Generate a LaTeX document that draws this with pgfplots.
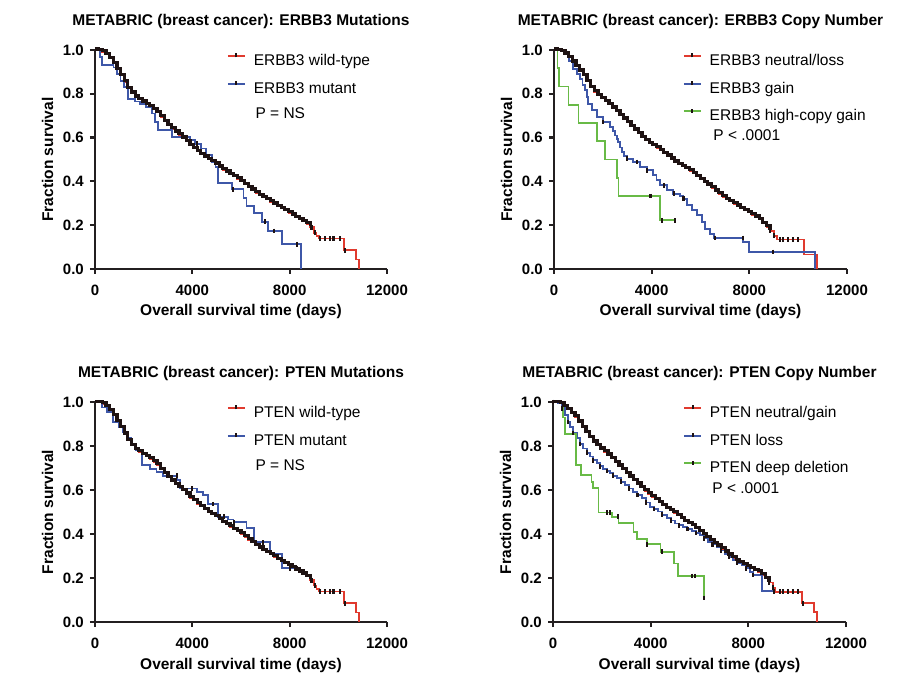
\documentclass[border=0pt]{standalone}
\usepackage{fontspec}
\setmainfont{Liberation Sans}
\usepackage{pgfplots}
\usepackage{pgfplotstable}
\pgfplotsset{compat=1.18}

\definecolor{kmred}{RGB}{224,58,46}
\definecolor{kmblue}{RGB}{62,87,168}
\definecolor{kmgreen}{RGB}{104,186,70}
\definecolor{axisc}{RGB}{35,31,32}
\definecolor{censc}{RGB}{30,18,18}

\newcommand\ttlfont{\bfseries\fontsize{15.5}{18}\selectfont}
\newcommand\lblfont{\bfseries\fontsize{15.5}{18}\selectfont}
\newcommand\ticfont{\bfseries\fontsize{15}{18}\selectfont}
\newcommand\lgdfont{\fontsize{15.5}{18}\selectfont}

% ERBB3 / PTEN wild-type (overall)
\pgfplotstableread{
x y
0 1.000
150 0.998
300 0.992
450 0.980
600 0.962
750 0.940
900 0.913
1050 0.884
1200 0.855
1350 0.826
1500 0.804
1650 0.786
1800 0.774
1950 0.763
2100 0.753
2250 0.742
2400 0.729
2550 0.715
2700 0.695
2850 0.675
3000 0.657
3150 0.641
3300 0.626
3450 0.613
3600 0.599
3750 0.582
3900 0.565
4050 0.552
4200 0.538
4350 0.525
4500 0.512
4650 0.500
4800 0.490
4950 0.480
5100 0.466
5250 0.453
5400 0.443
5550 0.433
5700 0.422
5850 0.412
6000 0.401
6150 0.388
6300 0.374
6450 0.361
6600 0.348
6750 0.337
6900 0.327
7050 0.317
7200 0.307
7350 0.297
7500 0.286
7650 0.276
7800 0.267
7950 0.257
8100 0.247
8250 0.237
8400 0.228
8550 0.219
8700 0.207
8850 0.190
9000 0.166
9100 0.150
9200 0.139
10220 0.085
10740 0.043
10840 0.000
}\redA

% ERBB3 neutral/loss
\pgfplotstableread{
x y
0 1.000
150 0.998
300 0.993
450 0.982
600 0.966
750 0.946
900 0.926
1050 0.905
1200 0.884
1350 0.856
1500 0.829
1650 0.810
1800 0.794
1950 0.779
2100 0.766
2250 0.752
2400 0.736
2550 0.719
2700 0.702
2850 0.685
3000 0.669
3150 0.652
3300 0.635
3450 0.619
3600 0.602
3750 0.588
3900 0.575
4050 0.564
4200 0.554
4350 0.542
4500 0.529
4650 0.516
4800 0.503
4950 0.489
5100 0.479
5250 0.469
5400 0.459
5550 0.449
5700 0.437
5850 0.424
6000 0.410
6150 0.397
6300 0.384
6450 0.371
6600 0.357
6750 0.344
6900 0.330
7050 0.318
7200 0.308
7350 0.298
7500 0.288
7650 0.278
7800 0.268
7950 0.258
8100 0.248
8250 0.238
8400 0.227
8550 0.209
8700 0.193
8850 0.173
9000 0.152
9120 0.135
10250 0.066
10770 0.000
}\redB

% PTEN neutral/gain
\pgfplotstableread{
x y
0 1.000
150 0.998
300 0.993
450 0.981
600 0.966
750 0.950
900 0.933
1050 0.910
1200 0.886
1350 0.862
1500 0.839
1650 0.819
1800 0.803
1950 0.787
2100 0.774
2250 0.760
2400 0.744
2550 0.727
2700 0.710
2850 0.694
3000 0.677
3150 0.660
3300 0.644
3450 0.628
3600 0.611
3750 0.597
3900 0.583
4050 0.570
4200 0.557
4350 0.544
4500 0.531
4650 0.517
4800 0.507
4950 0.497
5100 0.485
5250 0.472
5400 0.459
5550 0.449
5700 0.439
5850 0.426
6000 0.412
6150 0.398
6300 0.385
6450 0.372
6600 0.359
6750 0.346
6900 0.333
7050 0.319
7200 0.305
7350 0.292
7500 0.281
7650 0.272
7800 0.262
7950 0.252
8100 0.243
8250 0.236
8400 0.229
8550 0.215
8700 0.200
8850 0.180
9000 0.156
9100 0.138
10190 0.085
10680 0.046
10820 0.000
}\redC

% ERBB3 mutant
\pgfplotstableread{
x y
0 1.000
200 0.967
300 0.933
760 0.920
900 0.890
1050 0.860
1200 0.830
1370 0.778
1650 0.765
1850 0.755
2100 0.740
2330 0.710
2450 0.671
2600 0.633
3150 0.603
3900 0.588
4100 0.572
4350 0.550
4550 0.520
4800 0.490
4950 0.467
5070 0.394
5620 0.364
6100 0.323
6230 0.288
6540 0.254
6850 0.216
7120 0.174
7670 0.113
8470 0.000
}\blueA

% ERBB3 gain
\pgfplotstableread{
x y
0 1.000
450 0.980
600 0.950
792 0.915
930 0.890
1065 0.869
1170 0.840
1270 0.816
1340 0.785
1406 0.755
1542 0.725
1747 0.694
2020 0.671
2293 0.648
2400 0.630
2498 0.610
2570 0.595
2634 0.580
2700 0.555
2771 0.534
2880 0.515
2976 0.504
3249 0.489
3522 0.466
3795 0.451
4068 0.428
4200 0.405
4341 0.382
4614 0.359
4887 0.344
5160 0.333
5296 0.321
5433 0.291
5637 0.268
5842 0.245
6047 0.215
6184 0.184
6388 0.161
6550 0.142
7750 0.123
8000 0.078
10690 0.000
}\blueB

% ERBB3 high-copy gain
\pgfplotstableread{
x y
0 1.000
140 0.917
220 0.833
590 0.750
1000 0.667
1750 0.583
2090 0.500
2570 0.417
2640 0.333
4340 0.222
4970 0.222
}\greenB

% PTEN mutant
\pgfplotstableread{
x y
0 1.000
300 0.975
500 0.955
750 0.910
1000 0.885
1150 0.865
1350 0.835
1500 0.810
1700 0.780
1920 0.714
2260 0.695
2530 0.683
2800 0.665
3380 0.645
3500 0.607
4180 0.592
4450 0.577
4660 0.536
5070 0.479
5480 0.466
5690 0.453
6230 0.429
6520 0.362
7190 0.308
7670 0.244
8300 0.244
}\blueC

% PTEN loss
\pgfplotstableread{
x y
0 1.000
200 0.995
355 0.971
491 0.941
600 0.910
696 0.888
830 0.860
969 0.835
1100 0.810
1242 0.789
1380 0.770
1515 0.752
1650 0.735
1788 0.721
1920 0.708
2061 0.695
2200 0.686
2334 0.676
2470 0.665
2607 0.653
2780 0.638
2948 0.623
3120 0.607
3290 0.592
3460 0.577
3631 0.562
3800 0.543
3972 0.524
4140 0.513
4313 0.502
4480 0.488
4655 0.474
4830 0.461
4996 0.448
5170 0.440
5337 0.433
5510 0.423
5678 0.414
5850 0.405
6020 0.395
6190 0.380
6361 0.365
6530 0.353
6702 0.342
6870 0.325
7043 0.308
7210 0.295
7385 0.282
7550 0.270
7726 0.259
7900 0.244
8067 0.229
8200 0.214
8560 0.140
9050 0.140
}\blueD

% PTEN deep deletion
\pgfplotstableread{
x y
0 1.000
400 0.930
480 0.855
940 0.714
1150 0.668
1580 0.635
1650 0.610
1860 0.498
2400 0.479
2680 0.450
3300 0.410
3450 0.377
3850 0.353
4400 0.320
4950 0.266
5130 0.210
6200 0.110
}\greenD

\pgfplotsset{
  km/.style={
    scale only axis, anchor=south west,
    xmin=0, xmax=12000, ymin=0, ymax=1,
    axis x line=bottom, axis y line=left,
    axis line style={-, line width=2.2pt, draw=axisc},
    xtick={0,4000,8000,12000},
    ytick={0,0.2,0.4,0.6,0.8,1.0},
    scaled x ticks=false,
    minor tick num=0,
    tick align=outside, major tick length=5pt,
    tick style={line width=2.2pt, color=axisc},
    /pgf/number format/assume math mode=true,
    xticklabel style={font=\ticfont, anchor=base, yshift=-21.4pt, inner sep=0pt,
      /pgf/number format/1000 sep={}},
    yticklabel style={font=\ticfont, anchor=east, xshift=-6pt, inner sep=0pt,
      /pgf/number format/fixed, /pgf/number format/fixed zerofill,
      /pgf/number format/precision=1},
    title style={at={(0.5,1)}, anchor=base, yshift=18.5pt, font=\ttlfont},
    xlabel style={at={(axis description cs:0.5,0)}, anchor=base, yshift=-47pt, font=\lblfont},
    clip=false,
    legend cell align=left,
    legend style={draw=none, fill=none, anchor=north west, inner sep=0pt, outer sep=0pt,
      row sep=11.7pt, column sep=8pt, font=\lgdfont,
      nodes={inner sep=0pt, text height=11pt, text depth=3pt}},
    legend image code/.code={
      \draw[##1, line width=1.8pt] (0pt,5.5pt) -- (17pt,5.5pt);
      \draw[censc, line width=2pt, solid] (8.5pt,4pt) -- (8.5pt,8pt);
    },
  },
  kmline/.style={line width=1.8pt, const plot, mark=none},
  % dense run of censor ticks along the wild-type / neutral curves
  censband/.style={const plot, mark=none, censc, line width=3.2pt, yshift=0.9pt, forget plot},
  cens/.style={only marks, mark=|, mark size=2.3pt, mark options={line width=2.2pt, censc}, forget plot},
}

\begin{document}
\begin{tikzpicture}
\useasboundingbox (0pt,0pt) rectangle (918pt,694pt);

% ---------- Top left ----------
\begin{axis}[km, at={(95pt,425pt)}, width=292pt, height=219pt,
  title={METABRIC (breast cancer): ERBB3 Mutations},
  xlabel={Overall survival time (days)},
  legend style={at={(0.452,0.989)}}]
\addplot[kmline, kmred] table {\redA};
\addlegendentry{ERBB3 wild-type}
\addplot[kmline, kmblue] table {\blueA};
\addlegendentry{ERBB3 mutant}
\addplot[censband, restrict x to domain=0:8950] table {\redA};
\addplot[cens] coordinates {(8900,0.190) (9050,0.166) (9254,0.139) (9460,0.139) (9666,0.139) (9803,0.139) (10077,0.139) (10283,0.085)};
\addplot[cens] coordinates {(3750,0.603) (4200,0.572) (5685,0.364) (6990,0.216) (7360,0.174) (8290,0.113)};
\node[anchor=base, rotate=90, font=\lblfont] at ([xshift=-42pt]axis description cs:0,0.5) {Fraction survival};
\node[anchor=base west, font=\lgdfont] at (axis description cs:0.5377,0.687) {P = NS};
\end{axis}

% ---------- Top right ----------
\begin{axis}[km, at={(554pt,425pt)}, width=293pt, height=219pt,
  title={METABRIC (breast cancer): ERBB3 Copy Number},
  xlabel={Overall survival time (days)},
  legend style={at={(0.44,0.989)}}]
\addplot[kmline, kmred] table {\redB};
\addlegendentry{ERBB3 neutral/loss}
\addplot[kmline, kmblue] table {\blueB};
\addlegendentry{ERBB3 gain}
\addplot[kmline, kmgreen] table {\greenB};
\addlegendentry{ERBB3 high-copy gain}
\addplot[censband, restrict x to domain=0:8900] table {\redB};
\addplot[cens] coordinates {(8850,0.173) (9000,0.152) (9255,0.135) (9391,0.135) (9596,0.135) (9800,0.135) (10005,0.135)};
\addplot[cens] coordinates {(2020,0.671) (3000,0.504) (3400,0.489) (3800,0.451) (4500,0.382) (4900,0.344) (5300,0.321) (6600,0.142) (7750,0.142) (8980,0.078)};
\addplot[cens] coordinates {(3950,0.333) (4420,0.222) (4970,0.222)};
\node[anchor=base, rotate=90, font=\lblfont] at ([xshift=-42pt]axis description cs:0,0.5) {Fraction survival};
\node[anchor=base west, font=\lgdfont] at (axis description cs:0.532,0.587) {P < .0001};
\end{axis}

% ---------- Bottom left ----------
\begin{axis}[km, at={(95pt,72pt)}, width=292pt, height=220pt,
  title={METABRIC (breast cancer): PTEN Mutations},
  xlabel={Overall survival time (days)},
  legend style={at={(0.452,0.989)}}]
\addplot[kmline, kmred] table {\redA};
\addlegendentry{PTEN wild-type}
\addplot[kmline, kmblue] table {\blueC};
\addlegendentry{PTEN mutant}
\addplot[censband, restrict x to domain=0:8950] table {\redA};
\addplot[cens] coordinates {(8900,0.190) (9050,0.166) (9254,0.139) (9460,0.139) (9666,0.139) (9803,0.139) (10077,0.139) (10283,0.085)};
\addplot[cens] coordinates {(3360,0.665) (4000,0.607) (4850,0.536) (5100,0.479) (5300,0.479) (5700,0.453) (6900,0.362) (8000,0.244) (8300,0.244)};
\node[anchor=base, rotate=90, font=\lblfont] at ([xshift=-42pt]axis description cs:0,0.5) {Fraction survival};
\node[anchor=base west, font=\lgdfont] at (axis description cs:0.5377,0.689) {P = NS};
\end{axis}

% ---------- Bottom right ----------
\begin{axis}[km, at={(553pt,72pt)}, width=293pt, height=220pt,
  title={METABRIC (breast cancer): PTEN Copy Number},
  xlabel={Overall survival time (days)},
  legend style={at={(0.444,0.989)}}]
\addplot[kmline, kmred] table {\redC};
\addlegendentry{PTEN neutral/gain}
\addplot[kmline, kmblue] table {\blueD};
\addlegendentry{PTEN loss}
\addplot[kmline, kmgreen] table {\greenD};
\addlegendentry{PTEN deep deletion}
\addplot[censband, restrict x to domain=0:8900] table {\redC};
\addplot[cens] coordinates {(8850,0.180) (9000,0.156) (9296,0.138) (9432,0.138) (9637,0.138) (9842,0.138) (10046,0.138) (10251,0.085)};
\addplot[cens, mark repeat=2] table {\blueD};
\addplot[cens] coordinates {(2198,0.498) (2334,0.498) (2675,0.479) (3836,0.353) (4450,0.320) (5678,0.210) (5815,0.210) (6197,0.110)};
\node[anchor=base, rotate=90, font=\lblfont] at ([xshift=-42pt]axis description cs:0,0.5) {Fraction survival};
\node[anchor=base west, font=\lgdfont] at (axis description cs:0.532,0.583) {P < .0001};
\end{axis}
\end{tikzpicture}
\end{document}
